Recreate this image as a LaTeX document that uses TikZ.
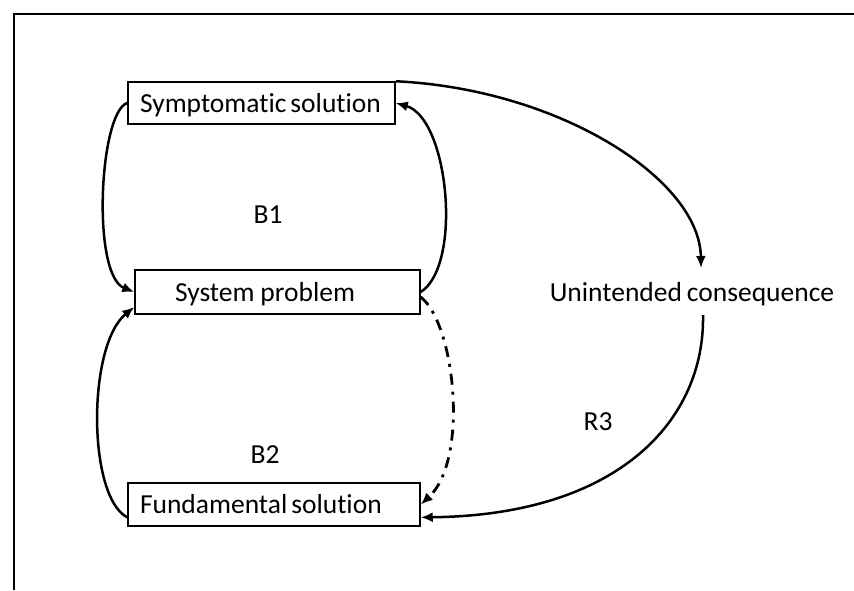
\documentclass[tikz,border=0pt]{standalone}
\usepackage{fontspec}
\setmainfont{Carlito}[Ligatures=NoCommon, WordSpace=0.8]
\usetikzlibrary{arrows.meta,calc}
\begin{document}
\begin{tikzpicture}[x=1pt,y=-1pt,
  box/.style={draw, line width=1.5pt, inner xsep=12pt, inner ysep=0pt, minimum height=42pt,
              text height=22pt, text depth=4pt, align=left, font=\fontsize{27.5}{30}\selectfont},
  lbl/.style={inner sep=0pt, font=\fontsize{27.5}{30}\selectfont},
  conn/.style={line width=2.5pt, -{Latex[length=12pt,width=10pt]}},
  dashdot/.style={line width=2.8pt, dash pattern=on 11pt off 7pt on 3pt off 7pt},
]
\useasboundingbox (0,0) rectangle (854,590);
\draw[line width=2.2pt] (14,590) -- (14,14) -- (854,14);

\node[box, text width=243pt] (sym) at (261.5,103) {\mbox{Symptomatic\hspace*{4pt}solution}};
\node[box, text width=261pt, minimum height=44pt] (sp) at (277.5,292) {\mbox{\hspace*{28pt}System\hspace*{6pt}problem}};
\node[box, text width=268pt, minimum height=43pt] (fs) at (274,504.5) {\mbox{Fundamental\hspace*{4pt}solution}};

\node[lbl] (uc) at (692,294) {Unintended consequence};
\node[lbl] (b1) at (268,215) {B1};
\node[lbl] (b2) at (265,455) {B2};
\node[lbl] (r3) at (598,422) {R3};

\draw[conn] (sym.west) .. controls +(-28,9) and +(-43,-17) .. (sp.west);
\draw[conn] (sp.east) .. controls +(42,-27) and +(53,15) .. (sym.east);
\draw[conn] (fs.185) .. controls +(-40,-21) and +(-47,38) .. (sp.186);
\draw[conn, dashdot] (sp.-2) .. controls +(35,28) and +(48,-44) .. (fs.east);
\draw[conn] (sym.north east) .. controls +(165,8) and +(-1,-88) .. ($(uc.center)+(9,-26)$);
\draw[conn] ($(uc.center)+(11,21)$) .. controls +(2,105) and +(198,-2) .. (fs.-5);
\end{tikzpicture}
\end{document}
